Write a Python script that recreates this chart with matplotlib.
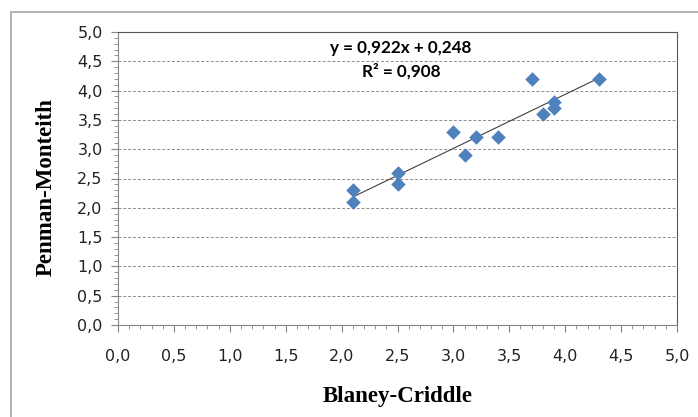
import matplotlib
matplotlib.use('Agg')
import matplotlib.pyplot as plt
from matplotlib.ticker import MultipleLocator, FuncFormatter
from matplotlib.patches import Rectangle

# data
blaney = [2.1, 2.1, 2.5, 2.5, 3.0, 3.1, 3.2, 3.4, 3.7, 3.8, 3.9, 3.9, 4.3]
penman = [2.3, 2.1, 2.6, 2.4, 3.3, 2.9, 3.2, 3.2, 4.2, 3.6, 3.8, 3.7, 4.2]
slope, intercept = 0.922, 0.248
eq_text = 'y = 0,922x + 0,248'
r2_text = 'R² = 0,908'

fig = plt.figure(figsize=(6.98, 4.17), dpi=100)
# outer chart frame (right and bottom edges are cut off in the original)
fig.patches.append(Rectangle((10.5/698, -0.05), 1.0, 1.05 - 11.5/417, transform=fig.transFigure,
                             fill=False, edgecolor='#a6a6a6', lw=1.2))
ax = fig.add_axes([118/698, 1-325/417, 559/698, 293/417])

ax.scatter(blaney, penman, marker='D', s=55, color='#4f81bd', zorder=3, linewidths=0)
x0, x1 = min(blaney), max(blaney)
ax.plot([x0, x1], [slope*x0 + intercept, slope*x1 + intercept], color='#404040', lw=0.8, zorder=2)

ax.set_xlim(0, 5)
ax.set_ylim(0, 5)
ax.xaxis.set_major_locator(MultipleLocator(0.5))
ax.yaxis.set_major_locator(MultipleLocator(0.5))
ax.xaxis.set_minor_locator(MultipleLocator(0.1))
ax.yaxis.set_minor_locator(MultipleLocator(0.1))
fmt = FuncFormatter(lambda v, p: f'{v:.1f}'.replace('.', ','))
ax.xaxis.set_major_formatter(fmt)
ax.yaxis.set_major_formatter(fmt)
ax.tick_params(which='major', length=5, color='#868686', labelsize=11.5, labelcolor='#222222')
ax.tick_params(which='minor', length=3, color='#868686')
ax.tick_params(axis='x', pad=12)
ax.tick_params(axis='y', pad=6)
ax.grid(axis='y', which='major', linestyle=(0, (3, 2)), color='#8c8c8c', lw=0.7)
for s in ['left', 'bottom']:
    ax.spines[s].set_color('#868686')
for s in ['top', 'right']:
    ax.spines[s].set_color('#595959')

ax.set_xlabel('Blaney-Criddle', family='Liberation Serif', fontweight='bold', fontsize=16.5, labelpad=16)
ax.set_ylabel('Penman-Monteith', family='Liberation Serif', fontweight='bold', fontsize=16.5, labelpad=12)
ax.yaxis.set_label_coords(-0.11, 0.47)

ax.text(2.53, 4.73, eq_text, family='Lato', fontweight='bold', fontsize=12.3, ha='center', va='center')
ax.text(2.53, 4.33, r2_text, family='Lato', fontweight='bold', fontsize=12.3, ha='center', va='center')

fig.savefig('out.png', dpi=100)
